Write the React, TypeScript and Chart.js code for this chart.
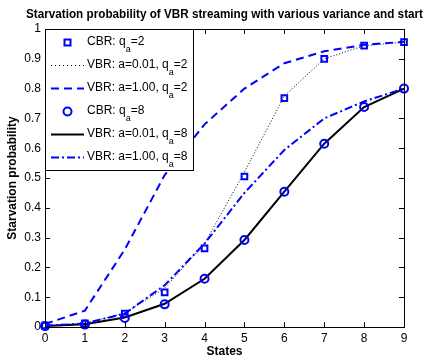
import React, { useEffect, useRef } from "react";
import { Chart, registerables } from "chart.js";

Chart.register(...registerables);

const states = [0, 1, 2, 3, 4, 5, 6, 7, 8, 9];
const cbrQ2 = [0.005, 0.012, 0.045, 0.116, 0.264, 0.505, 0.768, 0.9, 0.944, 0.956];
const vbr001Q2 = [0.004, 0.012, 0.047, 0.13, 0.28, 0.52, 0.775, 0.9, 0.944, 0.956];
const vbr100Q2 = [0.01, 0.055, 0.26, 0.51, 0.68, 0.8, 0.885, 0.925, 0.947, 0.957];
const cbrQ8 = [0.003, 0.008, 0.03, 0.076, 0.162, 0.292, 0.454, 0.615, 0.738, 0.8];
const vbr001Q8 = [0.003, 0.009, 0.032, 0.078, 0.162, 0.292, 0.454, 0.615, 0.738, 0.8];
const vbr100Q8 = [0.004, 0.012, 0.045, 0.14, 0.28, 0.45, 0.594, 0.7, 0.757, 0.8];

const xTicks = [0, 1, 2, 3, 4, 5, 6, 7, 8, 9];
const yTicks = [0, 0.1, 0.2, 0.3, 0.4, 0.5, 0.6, 0.7, 0.8, 0.9, 1];

const titleText = "Starvation probability of VBR streaming with various variance and start";
const xTitle = "States";
const yTitle = "Starvation probability";

const legendItems = [
  { prefix: "CBR: q", sub: "a", suffix: "=2", kind: "square" },
  { prefix: "VBR: a=0.01, q", sub: "a", suffix: "=2", kind: "dotted" },
  { prefix: "VBR: a=1.00, q", sub: "a", suffix: "=2", kind: "dashed" },
  { prefix: "CBR: q", sub: "a", suffix: "=8", kind: "circle" },
  { prefix: "VBR: a=0.01, q", sub: "a", suffix: "=8", kind: "solid" },
  { prefix: "VBR: a=1.00, q", sub: "a", suffix: "=8", kind: "dashdot" },
];

const FONT = "'Liberation Sans', Arial, Helvetica, sans-serif";
const BLUE = "#0000ff";

const pts = (arr: number[]) => arr.map((y, i) => ({ x: states[i], y }));

function setLineStyle(ctx: CanvasRenderingContext2D, kind: string) {
  if (kind === "dotted") {
    ctx.strokeStyle = "#000";
    ctx.lineWidth = 1;
    ctx.setLineDash([1, 3]);
  } else if (kind === "dashed") {
    ctx.strokeStyle = BLUE;
    ctx.lineWidth = 2;
    ctx.setLineDash([8, 5]);
  } else if (kind === "solid") {
    ctx.strokeStyle = "#000";
    ctx.lineWidth = 2;
    ctx.setLineDash([]);
  } else if (kind === "dashdot") {
    ctx.strokeStyle = BLUE;
    ctx.lineWidth = 2;
    ctx.setLineDash([8, 3, 2, 3]);
  }
}

const framePlugin = {
  id: "frame",
  afterDraw(chart: any) {
    const ctx: CanvasRenderingContext2D = chart.ctx;
    const { left, right, top, bottom } = chart.chartArea;
    const xs = chart.scales.x;
    const ys = chart.scales.y;
    ctx.save();
    ctx.strokeStyle = "#000";
    ctx.lineWidth = 1;
    ctx.setLineDash([]);
    ctx.strokeRect(Math.round(left) + 0.5, Math.round(top) + 0.5, Math.round(right - left), Math.round(bottom - top));
    const tl = 5;
    ctx.beginPath();
    xTicks.forEach((v) => {
      const px = Math.round(xs.getPixelForValue(v)) + 0.5;
      ctx.moveTo(px, bottom);
      ctx.lineTo(px, bottom - tl);
      ctx.moveTo(px, top);
      ctx.lineTo(px, top + tl);
    });
    yTicks.forEach((v) => {
      const py = Math.round(ys.getPixelForValue(v)) + 0.5;
      ctx.moveTo(left, py);
      ctx.lineTo(left + tl, py);
      ctx.moveTo(right, py);
      ctx.lineTo(right - tl, py);
    });
    ctx.stroke();

    // titles
    ctx.fillStyle = "#000";
    ctx.font = `bold 12px ${FONT}`;
    ctx.textAlign = "left";
    ctx.textBaseline = "middle";
    ctx.fillText(titleText, 26, 15, 397);
    ctx.textAlign = "center";
    ctx.fillText(xTitle, (left + right) / 2, 352);
    ctx.save();
    ctx.translate(13, (top + bottom) / 2);
    ctx.rotate(-Math.PI / 2);
    ctx.fillText(yTitle, 0, 0);
    ctx.restore();

    // legend
    const lx = Math.round(left) + 0.5;
    const ly = Math.round(top) + 0.5;
    const lw = 148;
    const lh = 141;
    ctx.fillStyle = "#fff";
    ctx.fillRect(lx, ly, lw, lh);
    ctx.strokeStyle = "#000";
    ctx.lineWidth = 1;
    ctx.strokeRect(lx, ly, lw, lh);
    legendItems.forEach((item, i) => {
      const ry = 42.5 + i * 23;
      const x1 = 51;
      const x2 = 84;
      const mx = (x1 + x2) / 2;
      ctx.save();
      if (item.kind === "square") {
        ctx.strokeStyle = BLUE;
        ctx.lineWidth = 2;
        ctx.setLineDash([]);
        ctx.strokeRect(mx - 3, ry - 3, 6, 6);
      } else if (item.kind === "circle") {
        ctx.strokeStyle = BLUE;
        ctx.lineWidth = 2;
        ctx.setLineDash([]);
        ctx.beginPath();
        ctx.arc(mx, ry, 4, 0, Math.PI * 2);
        ctx.stroke();
      } else {
        setLineStyle(ctx, item.kind);
        ctx.beginPath();
        ctx.moveTo(x1, ry);
        ctx.lineTo(x2, ry);
        ctx.stroke();
      }
      ctx.restore();
      ctx.fillStyle = "#000";
      ctx.textAlign = "left";
      ctx.textBaseline = "alphabetic";
      ctx.font = `12px ${FONT}`;
      let tx = 87;
      const by = ry + 2.5;
      ctx.fillText(item.prefix, tx, by);
      tx += ctx.measureText(item.prefix).width;
      ctx.font = `9px ${FONT}`;
      ctx.fillText(item.sub, tx, by + 7);
      tx += ctx.measureText(item.sub).width;
      ctx.font = `12px ${FONT}`;
      ctx.fillText(item.suffix, tx, by);
    });
    ctx.restore();
  },
};

export default function App() {
  const ref = useRef<HTMLCanvasElement>(null);
  useEffect(() => {
    if (!ref.current) return;
    const chart = new Chart(ref.current, {
      type: "line",
      data: {
        datasets: [
          {
            label: "CBR: qa=2",
            data: pts(cbrQ2),
            showLine: false,
            pointStyle: "rect",
            pointRadius: 4,
            pointBorderWidth: 2,
            pointBorderColor: BLUE,
            pointBackgroundColor: "rgba(0,0,0,0)",
            borderColor: BLUE,
            clip: false,
            order: 0,
          },
          {
            label: "CBR: qa=8",
            data: pts(cbrQ8),
            showLine: false,
            pointStyle: "circle",
            pointRadius: 4,
            pointBorderWidth: 2,
            pointBorderColor: BLUE,
            pointBackgroundColor: "rgba(0,0,0,0)",
            borderColor: BLUE,
            clip: false,
            order: 1,
          },
          {
            label: "VBR: a=0.01, qa=2",
            data: pts(vbr001Q2),
            borderColor: "#000",
            borderWidth: 1,
            borderDash: [1, 2],
            pointRadius: 0,
            tension: 0,
            clip: false,
            order: 5,
          },
          {
            label: "VBR: a=1.00, qa=2",
            data: pts(vbr100Q2),
            borderColor: BLUE,
            borderWidth: 2,
            borderDash: [8, 5],
            pointRadius: 0,
            tension: 0,
            clip: false,
            order: 4,
          },
          {
            label: "VBR: a=0.01, qa=8",
            data: pts(vbr001Q8),
            borderColor: "#000",
            borderWidth: 2,
            pointRadius: 0,
            tension: 0,
            clip: false,
            order: 3,
          },
          {
            label: "VBR: a=1.00, qa=8",
            data: pts(vbr100Q8),
            borderColor: BLUE,
            borderWidth: 2,
            borderDash: [8, 3, 2, 3],
            pointRadius: 0,
            tension: 0,
            clip: false,
            order: 2,
          },
        ],
      },
      options: {
        animation: false,
        responsive: false,
        layout: { padding: { top: 29, right: 21, left: 0, bottom: 0 } },
        plugins: {
          legend: { display: false },
          title: { display: false },
          tooltip: { enabled: false },
        },
        scales: {
          x: {
            type: "linear",
            min: 0,
            max: 9,
            afterFit: (s: any) => {
              s.height = 32;
            },
            afterBuildTicks: (s: any) => {
              s.ticks = xTicks.map((v) => ({ value: v }));
            },
            grid: { display: false, drawTicks: false },
            border: { display: false },
            ticks: {
              padding: 4,
              color: "#000",
              font: { family: FONT, size: 12 },
              maxRotation: 0,
              callback: (v: any) => String(v),
            },
          },
          y: {
            type: "linear",
            min: 0,
            max: 1,
            afterFit: (s: any) => {
              s.width = 45;
            },
            afterBuildTicks: (s: any) => {
              s.ticks = yTicks.map((v) => ({ value: v }));
            },
            grid: { display: false, drawTicks: false },
            border: { display: false },
            ticks: {
              padding: 4,
              color: "#000",
              font: { family: FONT, size: 12 },
              callback: (v: any) => String(Math.round(Number(v) * 10) / 10),
            },
          },
        },
      },
      plugins: [framePlugin],
    } as any);
    return () => chart.destroy();
  }, []);
  return (
    <div style={{ position: "fixed", left: 0, top: 0, width: 425, height: 359, background: "#fff" }}>
      <canvas ref={ref} width={425} height={359} />
    </div>
  );
}
